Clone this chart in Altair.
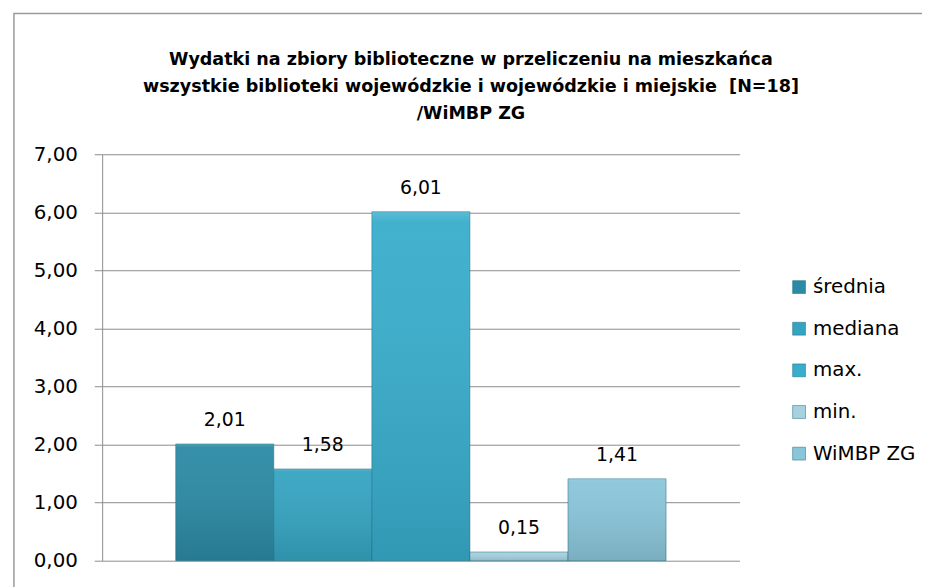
import altair as alt
import pandas as pd

categories = ["średnia", "mediana", "max.", "min.", "WiMBP ZG"]
values = [2.01, 1.58, 6.01, 0.15, 1.41]
colors = ["#2B8AA4", "#35A4C1", "#38ADCC", "#A6D2E0", "#8AC5DA"]
y_ticks = [0, 1, 2, 3, 4, 5, 6, 7]
title_lines = [
    "Wydatki na zbiory biblioteczne w przeliczeniu na mieszkańca",
    "wszystkie biblioteki wojewódzkie i wojewódzkie i miejskie \u00a0[N=18]",
    "/WiMBP ZG",
]

df = pd.DataFrame({"seria": categories, "wartosc": values})
df["etykieta"] = [f"{v:.2f}".replace(".", ",") for v in values]

FONT = "DejaVu Sans"

x_enc = alt.X("seria:N", sort=categories,
              scale=alt.Scale(paddingInner=0, paddingOuter=0.75), axis=None)
y_enc = alt.Y("wartosc:Q",
              scale=alt.Scale(domain=[0, 7], nice=False),
              axis=alt.Axis(values=y_ticks, title=None,
                            labelExpr="replace(format(datum.value, '.2f'), '.', ',')",
                            labelFont=FONT, labelFontSize=20, labelColor="#000000",
                            labelPadding=17, tickSize=8, tickColor="#8C8C8C",
                            domainColor="#8C8C8C", gridColor="#8C8C8C", gridWidth=1,
                            grid=True))

base = alt.Chart(df)
one = base.transform_filter(alt.datum.seria == "średnia")

frame = one.mark_rect(fill="white", fillOpacity=0, stroke="#9A9A9A", strokeWidth=1.5).encode(
    x=alt.value(-89), x2=alt.value(1000), y=alt.value(-142), y2=alt.value(700)
)

title = one.mark_text(text=title_lines, font=FONT, fontSize=17.7, fontWeight="bold",
                      color="#000000", align="center", baseline="middle",
                      lineHeight=27).encode(x=alt.value(372), y=alt.value(-95))

bars = base.mark_bar(stroke="#1E6A80", strokeWidth=1, strokeOpacity=0.5).encode(
    x=x_enc,
    y=y_enc,
    color=alt.Color("seria:N", sort=categories,
                    scale=alt.Scale(domain=categories, range=colors),
                    legend=alt.Legend(title=None, orient="none", legendX=693, legendY=124,
                                      symbolType="square", symbolSize=169,
                                      symbolStrokeColor="#1E6A80", symbolStrokeWidth=0.5,
                                      labelFont=FONT, labelFontSize=20, labelColor="#000000",
                                      rowPadding=22, labelOffset=4)),
)

shade = base.mark_bar(
    color=alt.Gradient(gradient="linear", x1=0, x2=0, y1=0, y2=1,
                       stops=[alt.GradientStop(offset=0, color="rgba(255,255,255,0.18)"),
                              alt.GradientStop(offset=0.03, color="rgba(255,255,255,0.05)"),
                              alt.GradientStop(offset=1, color="rgba(0,0,0,0.12)")])
).encode(x=x_enc, y=alt.Y("wartosc:Q"))

labels = base.mark_text(font=FONT, fontSize=19, color="#000000", baseline="middle", dy=-24).encode(
    x=x_enc, y=alt.Y("wartosc:Q"), text="etykieta:N"
)

chart = alt.layer(frame, title, bars, shade, labels).properties(
    width=643, height=410,
    autosize=alt.AutoSizeParams(type="none"),
    padding={"left": 95, "top": 145, "right": 184, "bottom": 24},
).configure_view(stroke=None).configure_axis(domainColor="#8C8C8C")

chart.save("out.html", embed_options={"renderer": "svg", "actions": False})
